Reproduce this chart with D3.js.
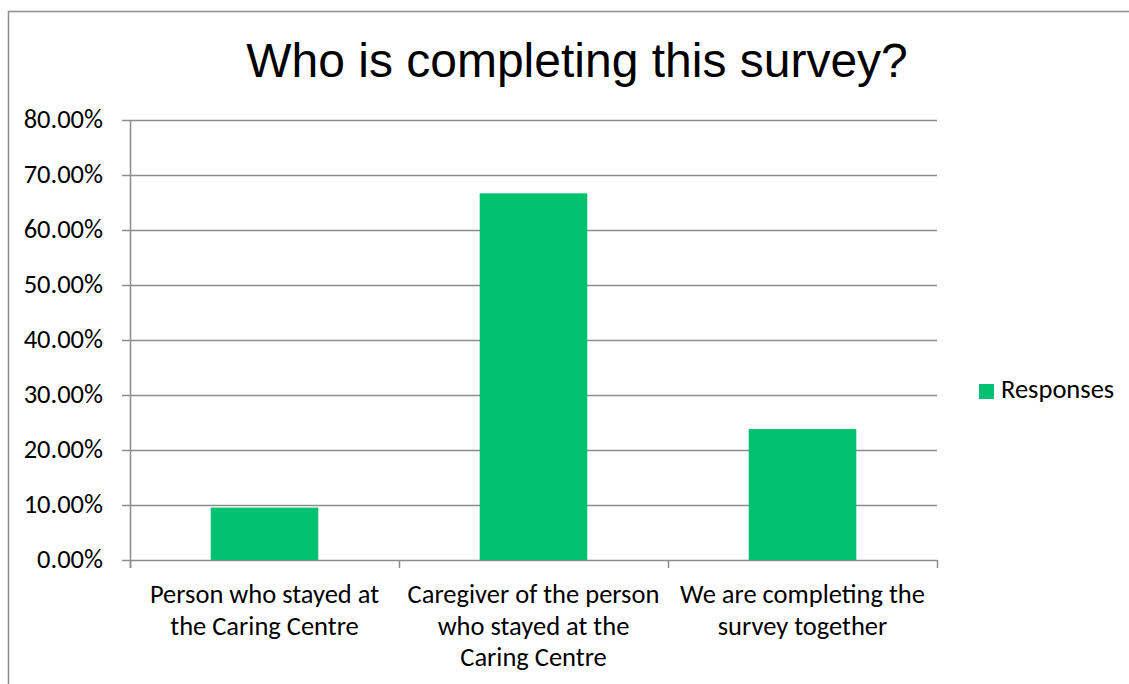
<!DOCTYPE html>
<html>
<head>
<meta charset="utf-8">
<script src="https://cdn.jsdelivr.net/npm/d3@7"></script>
<style>
  html, body { margin: 0; padding: 0; background: #fff; }
  svg { display: block; }
</style>
</head>
<body>
<svg id="chart" width="1129" height="684"></svg>
<script>
// Survey responses: share of respondents per answer
const categories = [
  ["Person who stayed at", "the Caring Centre"],
  ["Caregiver of the person", "who stayed at the", "Caring Centre"],
  ["We are completing the", "survey together"]
];
const responses = [0.0952, 0.6667, 0.2381];
const yTicks = [0, 0.1, 0.2, 0.3, 0.4, 0.5, 0.6, 0.7, 0.8];
const seriesName = "Responses";
const titleText = "Who is completing this survey?";

const W = 1129, H = 684;
const margin = { left: 130, right: 192, top: 120, bottom: 124 };
const barColor = "#00c170";
const gridColor = "#8c8c8c";
const labelFont = "Carlito, Calibri, Lato, sans-serif";
const labelSize = 26.5;

const svg = d3.select("#chart");

// outer chart frame
svg.append("rect")
  .attr("x", 8.5).attr("y", 11.5)
  .attr("width", W + 10).attr("height", H + 10)
  .attr("fill", "none").attr("stroke", "#8c8c8c").attr("stroke-width", 1.5);

const x = d3.scaleBand()
  .domain(d3.range(categories.length))
  .range([margin.left, W - margin.right])
  .paddingInner(0.6).paddingOuter(0.3);

const y = d3.scaleLinear().domain([0, 0.8]).range([H - margin.bottom, margin.top]);

// horizontal gridlines with short tick stubs on the left
const grid = svg.append("g");
grid.selectAll("line").data(yTicks).join("line")
  .attr("x1", margin.left - 8).attr("x2", W - margin.right)
  .attr("y1", d => Math.round(y(d)) + 0.5).attr("y2", d => Math.round(y(d)) + 0.5)
  .attr("stroke", gridColor).attr("stroke-width", 1.5);

// y axis labels
svg.append("g").selectAll("text").data(yTicks).join("text")
  .attr("x", margin.left - 27)
  .attr("y", d => y(d))
  .attr("dy", "0.32em")
  .attr("text-anchor", "end")
  .attr("font-family", labelFont)
  .attr("font-size", labelSize)
  .attr("fill", "#000")
  .text(d => d3.format(".2%")(d));

// bars
svg.append("g").selectAll("rect").data(responses).join("rect")
  .attr("x", (d, i) => x(i))
  .attr("width", x.bandwidth())
  .attr("y", d => y(d))
  .attr("height", d => y(0) - y(d))
  .attr("fill", barColor);

// vertical value axis line
svg.append("line")
  .attr("x1", margin.left + 0.5).attr("x2", margin.left + 0.5)
  .attr("y1", y(0.8)).attr("y2", y(0) + 8)
  .attr("stroke", gridColor).attr("stroke-width", 1.5);

// category boundary ticks below the baseline
const bounds = d3.range(categories.length + 1).map(i => margin.left + i * (W - margin.right - margin.left) / categories.length);
svg.append("g").selectAll("line").data(bounds).join("line")
  .attr("x1", d => Math.round(d) + 0.5).attr("x2", d => Math.round(d) + 0.5)
  .attr("y1", y(0)).attr("y2", y(0) + 8)
  .attr("stroke", gridColor).attr("stroke-width", 1.5);

// category labels
const catG = svg.append("g");
categories.forEach((lines, i) => {
  const cx = x(i) + x.bandwidth() / 2;
  const t = catG.append("text")
    .attr("text-anchor", "middle")
    .attr("font-family", labelFont)
    .attr("font-size", labelSize)
    .attr("fill", "#000");
  lines.forEach((ln, k) => {
    t.append("tspan").attr("x", cx).attr("y", 603 + k * 31.7).text(ln);
  });
});

// title
svg.append("text")
  .attr("x", 577).attr("y", 77)
  .attr("text-anchor", "middle")
  .attr("font-family", "Liberation Sans, Arial, sans-serif")
  .attr("font-size", 48)
  .attr("fill", "#000")
  .text(titleText);

// legend
const lg = svg.append("g");
lg.append("rect").attr("x", 979).attr("y", 384).attr("width", 15).attr("height", 15).attr("fill", barColor);
lg.append("text").attr("x", 1001).attr("y", 398)
  .attr("font-family", labelFont).attr("font-size", labelSize).attr("fill", "#000")
  .text(seriesName);
</script>
</body>
</html>
